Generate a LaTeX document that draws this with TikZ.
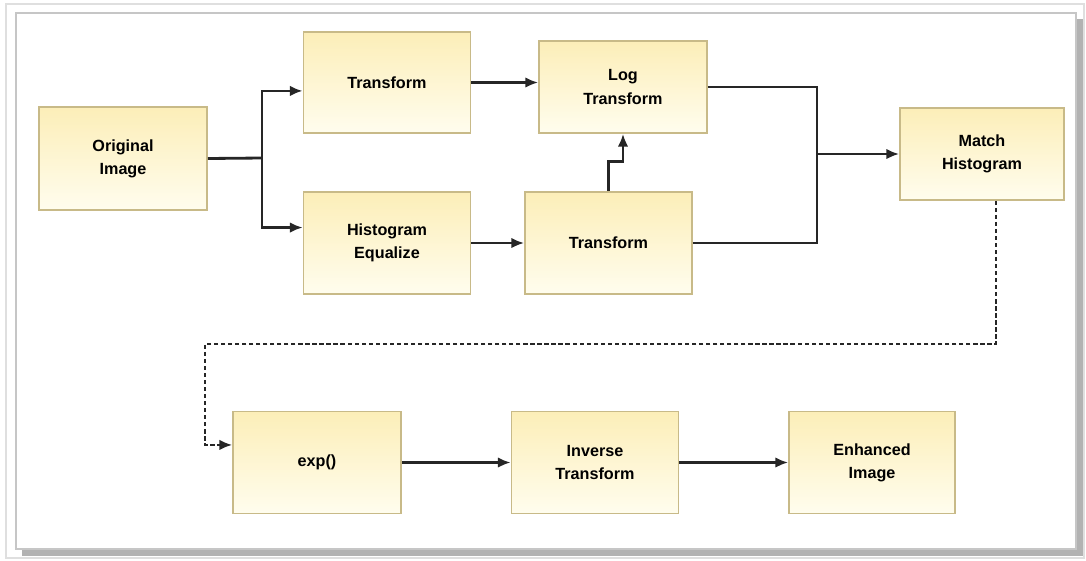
\documentclass[tikz,border=0pt]{standalone}
\usepackage{fontspec}
\setsansfont{Liberation Sans}
\usetikzlibrary{arrows.meta,positioning}
\definecolor{boxtop}{RGB}{252,238,184}
\definecolor{boxbot}{RGB}{255,253,238}
\definecolor{boxline}{RGB}{200,186,136}
\definecolor{linecol}{RGB}{38,38,38}

\begin{document}
\begin{tikzpicture}[x=0.025cm,y=-0.025cm,
	blk/.style={draw=boxline,line width=1.2pt,top color=boxtop,bottom color=boxbot,
		align=center,font=\sffamily\bfseries\fontsize{11.5}{16.5}\selectfont,
		minimum width=4.175cm,minimum height=2.525cm,inner sep=0pt},
	wire/.style={draw=linecol,line width=2pt},
	arr/.style={wire,-{Latex[length=9pt,width=7.5pt]}},
	dotline/.style={draw=linecol,line width=1.6pt,dash pattern=on 3pt off 2pt,
		-{Latex[length=9pt,width=7.5pt]}}]
	\useasboundingbox (0,0) rectangle (1086,560);
	% frame
	\draw[gray!25,line width=0.8pt] (6,4) rectangle (1084,558);
	\fill[gray!60] (22,19) rectangle (1083,556);
	\draw[gray!45,fill=white,line width=1pt] (16,13) rectangle (1076,549);
	% blocks
	\node[blk,minimum width=4.2cm,minimum height=2.575cm] (orig) at (123,158.5) {Original\\Image};
	\node[blk] (tfa) at (387,82.5) {Transform};
	\node[blk,minimum width=4.2cm,minimum height=2.3cm] (logt) at (623,87) {Log\\Transform};
	\node[blk,minimum height=2.55cm] (histeq) at (387,243) {Histogram\\Equalize};
	\node[blk,minimum height=2.55cm] (tfb) at (608.5,243) {Transform};
	\node[blk,minimum width=4.1cm,minimum height=2.3cm] (match) at (982,154) {Match\\Histogram};
	\node[blk,minimum width=4.2cm,minimum height=2.55cm] (expf) at (317,462.5) {exp()};
	\node[blk,minimum height=2.55cm] (inv) at (595,462.5) {Inverse\\Transform};
	\node[blk,minimum width=4.15cm,minimum height=2.55cm] (enh) at (872,462.5) {Enhanced\\Image};
	\coordinate (split) at (262,158);
	\coordinate (merge) at (817,154);
	\coordinate (bend) at (205,344);
	% connectors
	\draw[wire] (orig.east) -- (split);
	\draw[arr] (split) |- ([yshift=-6pt]tfa.west);
	\draw[arr] (split) |- ([yshift=11pt]histeq.west);
	\draw[arr] (tfa.east) -- (tfa.east -| logt.west);
	\draw[arr] (histeq.east) -- (tfb.west);
	\draw[arr] (tfb.north) -- ++(0,-30) -| (logt.south);
	\draw[wire] (logt.east) -| (merge);
	\draw[wire] (tfb.east) -| (merge);
	\draw[arr] (merge) -- (match.west);
	\draw[dotline] ([xshift=10pt]match.south) |- (bend) |- ([yshift=12.5pt]expf.west);
	\draw[arr] (expf.east) -- (inv.west);
	\draw[arr] (inv.east) -- (enh.west);
\end{tikzpicture}
\end{document}
